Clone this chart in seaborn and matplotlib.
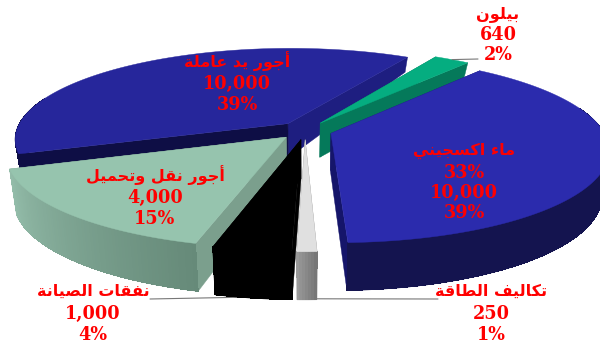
import numpy as np
import matplotlib
matplotlib.use("Agg")
import matplotlib.pyplot as plt
import seaborn as sns

# Cost items, counter-clockwise from the top right of the pie
categories = ["أجور يد عاملة", "أجور نقل وتحميل", "نفقات الصيانة",
              "تكاليف الطاقة", "ماء اكسجيني", "بيلون"]
values = [10000, 4000, 1000, 250, 10000, 640]
extra_lines = ["", "", "", "", "33%", ""]

top_colors = ["#26269B", "#96C4AE", "#000000", "#E0E0E0", "#2B2BAD", "#05AD80"]
start_face = ["#1E1E80", "#7B9F8D", "#000000", "#808080", "#15156A", "#05795A"]
end_face = ["#0E0E45", "#7B9F8D", "#000000", "#808080", "#15156A", "#05795A"]
rim_colors = [["#0E0E45", "#0E0E45"], ["#94BDAA", "#668A79"], ["#000000", "#000000"],
              ["#999999", "#777777"], ["#14144F", "#14144F"], ["#05795A", "#05795A"]]
draw_order = [0, 5, 4, 1, 2, 3]

label_xy = [(237, 61), (155, 175), (93, 291), (491, 291), (464, 151), (498, 14)]
line_gap = [21, 21, 21.5, 21.5, 20, 19.5]
leader_end = {2: (150, 299), 3: (438, 299), 5: (478, 59)}

# Projection of the pie plane onto the page
CX, CY, RX, RY, PERSP, EXPLODE, START = 305, 130.5, 272, 90, 0.167, 0.1, 60
SHRINK = 0.976
DEPTH_V = [-1.1, -0.3, 0.0, 0.9]
DEPTH_PX = [48, 46, 36, 15]
NUMBER_NUDGE = 1.5


def project(u, v):
    s = 1 / (1 + PERSP * v)
    return CX + RX * u * s, CY - RY * v * s


def drop(x, y, v):
    return CX + (x - CX) * SHRINK, y + np.interp(v, DEPTH_V, DEPTH_PX)


FORMS = {
    "أ": "\uFE83\uFE84", "ا": "\uFE8D\uFE8E", "ء": "\uFE80", "د": "\uFEA9\uFEAA",
    "ر": "\uFEAD\uFEAE", "و": "\uFEED\uFEEE", "ة": "\uFE93\uFE94",
    "ب": "\uFE8F\uFE90\uFE91\uFE92", "ت": "\uFE95\uFE96\uFE97\uFE98",
    "ج": "\uFE9D\uFE9E\uFE9F\uFEA0", "ح": "\uFEA1\uFEA2\uFEA3\uFEA4",
    "س": "\uFEB1\uFEB2\uFEB3\uFEB4", "ص": "\uFEB9\uFEBA\uFEBB\uFEBC",
    "ط": "\uFEC1\uFEC2\uFEC3\uFEC4", "ع": "\uFEC9\uFECA\uFECB\uFECC",
    "ف": "\uFED1\uFED2\uFED3\uFED4", "ق": "\uFED5\uFED6\uFED7\uFED8",
    "ك": "\uFED9\uFEDA\uFEDB\uFEDC", "ل": "\uFEDD\uFEDE\uFEDF\uFEE0",
    "م": "\uFEE1\uFEE2\uFEE3\uFEE4", "ن": "\uFEE5\uFEE6\uFEE7\uFEE8",
    "ي": "\uFEF1\uFEF2\uFEF3\uFEF4",
}


def shape(text):
    # matplotlib lays text out left to right without joining, so pick the
    # contextual glyphs here and reverse into visual order
    out = []
    for i, ch in enumerate(text):
        if ch not in FORMS:
            out.append(ch)
            continue
        prev = text[i - 1] if i else " "
        nxt = text[i + 1] if i + 1 < len(text) else " "
        joins_prev = prev in FORMS and len(FORMS[prev]) == 4
        joins_next = nxt in FORMS and len(FORMS[ch]) == 4
        f = FORMS[ch]
        if len(f) == 1:
            out.append(f)
        elif len(f) == 2:
            out.append(f[1] if joins_prev else f[0])
        elif joins_prev and joins_next:
            out.append(f[3])
        elif joins_prev:
            out.append(f[1])
        elif joins_next:
            out.append(f[2])
        else:
            out.append(f[0])
    return "".join(reversed(out))


sns.set_theme(style="white")
fig = plt.figure(figsize=(6, 3.44), dpi=100)
ax = fig.add_axes([0, 0, 1, 1])
ax.set_xlim(0, 600)
ax.set_ylim(344, 0)
ax.axis("off")

total = sum(values)
sweeps = [v / total * 360 for v in values]
starts = START + np.concatenate([[0], np.cumsum(sweeps)[:-1]])

for rank, i in enumerate(draw_order):
    z = 2 + rank
    a0, a1 = starts[i], starts[i] + sweeps[i]
    mid = np.radians((a0 + a1) / 2)
    eu, ev = EXPLODE * np.cos(mid), EXPLODE * np.sin(mid)
    th = np.radians(np.linspace(a0, a1, max(8, int(sweeps[i] * 1.5))))
    us, vs = eu + np.cos(th), ev + np.sin(th)
    xs, ys = project(us, vs)
    bx, by = drop(xs, ys, vs)
    ax_, ay_ = project(eu, ev)
    abx, aby = drop(ax_, ay_, ev)

    # Radial cut faces
    ax.fill([ax_, xs[0], bx[0], abx], [ay_, ys[0], by[0], aby],
            color=start_face[i], lw=0.3, zorder=z)
    ax.fill([ax_, xs[-1], bx[-1], abx], [ay_, ys[-1], by[-1], aby],
            color=end_face[i], lw=0.3, zorder=z)

    # Curved outer wall: only the part facing the viewer, flat base then shading
    front = np.sin(th) < 0.3
    if front.sum() > 1:
        shades = sns.blend_palette(rim_colors[i], len(th) - 1)
        fx, fy, gx, gy = xs[front], ys[front], bx[front], by[front]
        ax.fill(np.r_[fx, gx[::-1]], np.r_[fy, gy[::-1]],
                color=shades[len(shades) // 2], lw=0.5, zorder=z)
        idx = np.flatnonzero(front)
        for k in idx[:-1]:
            ax.fill([xs[k], xs[k + 1], bx[k + 1], bx[k]],
                    [ys[k], ys[k + 1], by[k + 1], by[k]],
                    facecolor=shades[k], edgecolor="none", antialiased=False, zorder=z)

    # Top surface
    ax.fill(np.r_[ax_, xs], np.r_[ay_, ys], color=top_colors[i], lw=0.3, zorder=z)

    # Leader lines run from under the slice out to the label
    if i in leader_end:
        m = (len(th) - 1) // 2
        px, py = (bx[m], by[m] - 1) if i != 5 else (xs[m], ys[m])
        ex, ey = leader_end[i]
        ax.plot([px, ex], [py, ey], color="#777777", lw=0.8,
                zorder=z + 20 if i == 5 else 1)

# Red labels: name, value, percent
for i, (x, y) in enumerate(label_xy):
    lines = [("ar", categories[i])]
    if extra_lines[i]:
        lines.append(("num", extra_lines[i]))
    lines.append(("num", f"{values[i]:,}"))
    lines.append(("num", f"{round(values[i] / total * 100)}%"))
    for j, (kind, s) in enumerate(lines):
        if kind == "ar":
            ax.text(x, y + j * line_gap[i], shape(s), ha="center", va="center",
                    color="#FF0000", family="DejaVu Sans", fontweight="bold",
                    fontsize=11.5, zorder=30)
        else:
            ax.text(x, y + j * line_gap[i] + NUMBER_NUDGE, s, ha="center", va="center",
                    color="#FF0000", family="DejaVu Serif", fontweight="bold",
                    fontsize=12.7, zorder=30)

fig.savefig("out.png", dpi=100, facecolor="white")
